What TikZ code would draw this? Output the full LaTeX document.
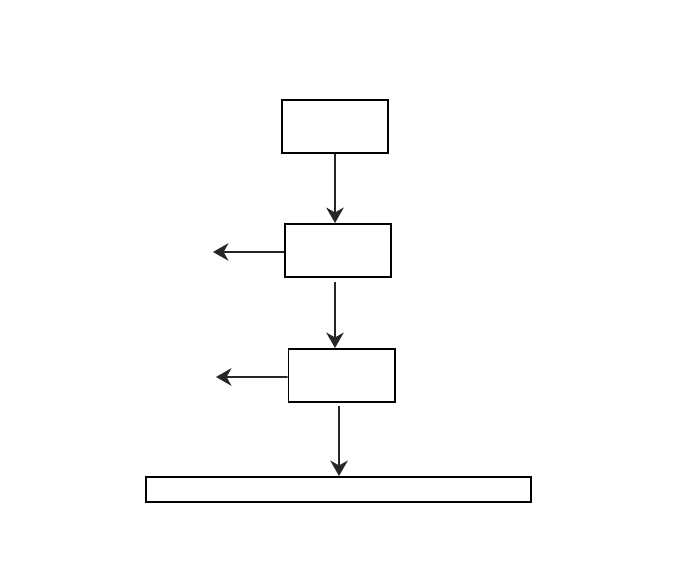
\documentclass[tikz,border=0pt]{standalone}
\usetikzlibrary{arrows.meta,positioning}

\tikzset{
  blk/.style={draw,line width=1.4pt,minimum width=2.65cm,minimum height=1.325cm,inner sep=0pt},
  bar/.style={draw,line width=1.4pt,minimum width=9.625cm,minimum height=0.625cm,inner sep=0pt},
  arr/.style={-{Stealth[length=11pt,width=12.5pt,inset=3.5pt]},line width=1pt,color=black!85}
}

\begin{document}
\begin{tikzpicture}[x=0.025cm,y=-0.025cm]
  \useasboundingbox (0,0) rectangle (684,576);

  % Blocks
  \node[blk] (top) at (335,126.5) {};
  \node[blk] (mid) at (338,250.5) {};
  \node[blk] (low) at (341.5,375.5) {};
  \node[bar] (base) at (338.5,489.5) {};

  % Free ends of the side arrows
  \coordinate (midout) at (213,252);
  \coordinate (lowout) at (216,377);

  % Vertical flow
  \draw[arr,line width=0.8pt] (top.south) -- (top.south |- mid.north);
  \draw[arr] ([shift={(-3,4)}]mid.south) -- ([xshift=-3*0.025cm]mid.south |- low.north);
  \draw[arr,line width=1.3pt] ([shift={(-2.5,3)}]low.south) -- ([xshift=-2.5*0.025cm]low.south |- base.north);

  % Side outputs
  \draw[arr,line width=1.4pt] ([yshift=-1.5*0.025cm]mid.west) -- (midout);
  \draw[arr,line width=1.4pt] ([yshift=-1.5*0.025cm]low.west) -- (lowout);
\end{tikzpicture}
\end{document}
